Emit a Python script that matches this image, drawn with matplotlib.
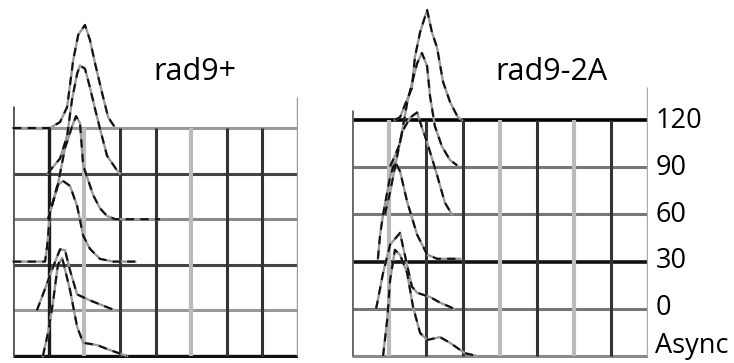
import matplotlib.pyplot as plt

plt.rcParams['font.family'] = ['Open Sans', 'DejaVu Sans']

rows = ['Async', '0', '30', '60', '90', '120']

# rad9+ histograms: x in grid columns, h in grid rows above each baseline
wt_async_x = [0.84, 0.98, 1.12, 1.26, 1.38, 1.60, 1.80, 1.97, 2.36, 2.72, 3.20]
wt_async_h = [0, 0.50, 1.16, 2.00, 2.15, 1.45, 0.64, 0.29, 0.24, 0.13, 0]
wt_0_x = [0.67, 0.84, 1.12, 1.32, 1.46, 1.60, 1.80, 2.16, 2.64, 2.87]
wt_0_h = [0, 0.35, 0.94, 1.34, 1.32, 0.88, 0.35, 0.22, 0.07, 0]
wt_30_x = [0, 0.90, 0.96, 1.04, 1.24, 1.40, 1.60, 1.80, 1.97, 2.16, 2.44, 2.81, 3.43]
wt_30_h = [0.07, 0.07, 0.42, 1.14, 1.73, 1.84, 1.73, 1.29, 0.64, 0.35, 0.13, 0.07, 0.07]
wt_60_x = [0.98, 1.24, 1.46, 1.66, 1.77, 1.88, 1.97, 2.25, 2.44, 2.64, 2.87, 4.13]
wt_60_h = [0, 0.68, 1.56, 2.04, 2.26, 2.11, 1.18, 0.53, 0.24, 0.07, 0, 0]
wt_90_x = [0.98, 1.04, 1.32, 1.52, 1.66, 1.80, 1.88, 2.02, 2.16, 2.30, 2.44, 2.64, 2.92, 3.00]
wt_90_h = [0, 0.07, 0.33, 0.83, 1.64, 2.19, 2.37, 2.30, 1.89, 1.43, 0.99, 0.39, 0.07, 0]
wt_120_x = [0, 1.04, 1.32, 1.52, 1.69, 1.83, 2.02, 2.16, 2.30, 2.50, 2.67, 2.87]
wt_120_h = [0, 0, 0.13, 0.46, 1.49, 2.04, 2.26, 1.93, 1.43, 0.77, 0.24, 0]

# rad9-2A histograms
mut_async_x = [0.84, 0.95, 1.03, 1.16, 1.30, 1.49, 1.65, 1.84, 2.03, 2.38, 2.65, 2.92, 3.05, 3.38]
mut_async_h = [0, 0.76, 1.61, 2.25, 2.14, 1.76, 1.04, 0.49, 0.34, 0.40, 0.28, 0.13, 0.06, 0]
mut_0_x = [0.65, 0.70, 0.84, 1.03, 1.30, 1.38, 1.62, 1.76, 2.11, 2.38, 2.65, 2.75]
mut_0_h = [0, 0.19, 0.76, 1.36, 1.61, 1.31, 0.47, 0.34, 0.25, 0.13, 0.04, 0]
mut_30_x = [0.70, 0.76, 0.84, 1.03, 1.16, 1.30, 1.49, 1.76, 2.03, 2.30, 2.92]
mut_30_h = [0.06, 0.57, 1.00, 1.80, 2.12, 1.91, 1.27, 0.57, 0.15, 0.06, 0.06]
mut_60_x = [0.89, 1.03, 1.16, 1.35, 1.57, 1.76, 1.89, 2.03, 2.30, 2.51, 2.70]
mut_60_h = [0, 0.47, 1.00, 1.74, 2.05, 2.16, 1.84, 1.53, 0.83, 0.25, 0]
mut_90_x = [1.03, 1.11, 1.30, 1.49, 1.62, 1.76, 1.89, 2.03, 2.11, 2.24, 2.43, 2.65, 2.84]
mut_90_h = [0.02, 0.15, 0.51, 1.36, 1.78, 2.20, 2.42, 2.14, 1.50, 0.87, 0.44, 0.15, 0.04]
mut_120_x = [1.16, 1.30, 1.43, 1.62, 1.70, 1.84, 2.03, 2.16, 2.30, 2.46, 2.65, 2.86, 2.97]
mut_120_h = [0, 0.06, 0.32, 0.68, 1.33, 1.86, 2.33, 1.86, 1.53, 0.81, 0.38, 0.06, 0]

wt_curves = [(wt_async_x, wt_async_h), (wt_0_x, wt_0_h), (wt_30_x, wt_30_h),
             (wt_60_x, wt_60_h), (wt_90_x, wt_90_h), (wt_120_x, wt_120_h)]
mut_curves = [(mut_async_x, mut_async_h), (mut_0_x, mut_0_h), (mut_30_x, mut_30_h),
              (mut_60_x, mut_60_h), (mut_90_x, mut_90_h), (mut_120_x, mut_120_h)]


def draw_panel(ax, curves, hcol, hlw, vcol, vlw, vtop):
    for k in range(6):
        ax.plot([0, 8], [k, k], color=hcol[k], lw=hlw[k], solid_capstyle='butt', zorder=1)
    for j in range(9):
        ax.plot([j, j], [0, vtop[j]], color=vcol[j], lw=vlw[j], solid_capstyle='butt', zorder=1)
    for k, (x, h) in enumerate(curves):
        y = [k + v for v in h]
        ax.plot(x, y, color='#9a9a9a', lw=1.7, zorder=2, clip_on=False)
        ax.plot(x, y, color='#111111', lw=1.5, ls=(0, (4, 3)), zorder=3, clip_on=False)
    ax.set_xlim(0, 8)
    ax.axis('off')


fig = plt.figure(figsize=(7.34, 3.63), dpi=100)

ax1 = fig.add_axes([13 / 734, 5 / 363, 285 / 734, 356 / 363])
draw_panel(ax1, wt_curves,
           ['#111111', '#999999', '#444444', '#8a8a8a', '#444444', '#999999'],
           [2.4, 2.2, 2.2, 2.2, 2.2, 2.2],
           ['#555555', '#1a1a1a', '#bbbbbb', '#333333', '#333333', '#bbbbbb', '#333333', '#333333', '#999999'],
           [2.0, 2.4, 3.0, 2.2, 2.2, 3.0, 2.2, 2.2, 2.4],
           [5.48, 5, 5, 5, 5, 5, 5, 5, 5.68])
ax1.set_ylim(-0.044, 7.763)

ax2 = fig.add_axes([352 / 734, 5 / 363, 296 / 734, 356 / 363])
draw_panel(ax2, mut_curves,
           ['#8a8a8a', '#777777', '#111111', '#777777', '#777777', '#000000'],
           [2.2, 2.2, 2.6, 2.2, 2.2, 2.6],
           ['#666666', '#bbbbbb', '#333333', '#333333', '#bbbbbb', '#333333', '#bbbbbb', '#333333', '#aaaaaa'],
           [2.0, 3.0, 2.2, 2.2, 3.0, 2.2, 3.0, 2.2, 2.4],
           [5.21, 5, 5, 5, 5, 5, 5, 5, 5.70])
ax2.set_ylim(-0.042, 7.5)

label_shift = [0.06, -0.13, -0.14, -0.16, -0.17, -0.17]
for k, lab in enumerate(rows):
    ax2.text(8.2, k + label_shift[k], lab, fontsize=19.5, va='baseline', ha='left', clip_on=False)

fig.text(194.5 / 734, 1 - 80 / 363, 'rad9+', fontsize=22, ha='center', va='baseline')
fig.text(551 / 734, 1 - 80 / 363, 'rad9-2A', fontsize=22, ha='center', va='baseline')

fig.savefig('out.png', dpi=100)
